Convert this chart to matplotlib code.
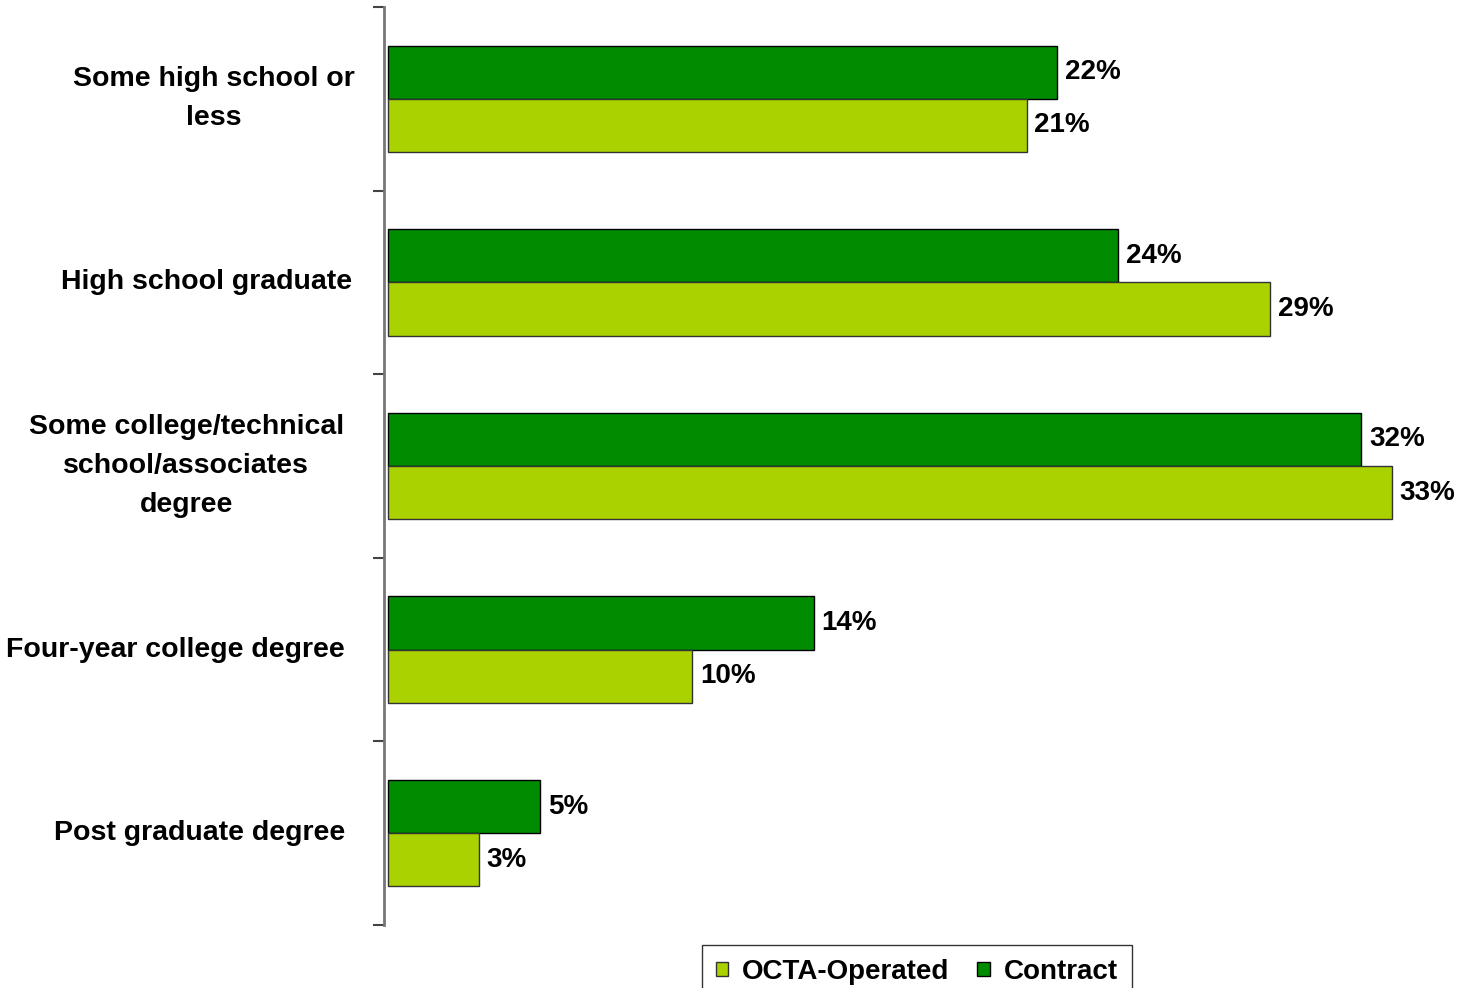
import matplotlib.pyplot as plt
import numpy as np

plt.rcParams['font.family'] = ['Liberation Sans', 'DejaVu Sans']

categories = ['Some high school or\nless', 'High school graduate',
              'Some college/technical\nschool/associates\ndegree',
              'Four-year college degree', 'Post graduate degree']
contract = [22, 24, 32, 14, 5]
octa = [21, 29, 33, 10, 3]

W, H = 1461, 988
fig = plt.figure(figsize=(W / 100, H / 100), dpi=100)
ax = fig.add_axes([384 / W, 1 - 925 / H, (1440 - 384) / W, (925 - 7) / H])

n = len(categories)
y = np.arange(n)
bh = 0.29
c_dark = '#008C00'
c_light = '#AAD200'

b2 = ax.barh(y - bh / 2, contract, height=bh, color=c_dark, edgecolor='black', linewidth=1, label='Contract')
b1 = ax.barh(y + bh / 2, octa, height=bh, color=c_light, edgecolor='#333333', linewidth=1, label='OCTA-Operated')

for bars, vals in [(b2, contract), (b1, octa)]:
    for b, v in zip(bars, vals):
        ax.text(v + 0.25, b.get_y() + b.get_height() / 2, f'{v}%', va='center', ha='left',
                fontsize=20, fontweight='bold')

ax.set_ylim(n - 0.5, -0.5)
ax.set_xlim(-0.13, (1440 - 388) / 30.42)

for s in ['top', 'right', 'bottom']:
    ax.spines[s].set_visible(False)
ax.spines['left'].set_color('#777777')
ax.spines['left'].set_linewidth(2)
ax.set_xticks([])
ax.set_yticks(np.arange(n + 1) - 0.5, minor=False)
ax.set_yticklabels([])
ax.tick_params(axis='y', length=8, width=1.5, color='#444444')

# right edges of the category labels (px), as in the original
xr = [355, 352, 344, 345, 345]
for i, lab in enumerate(categories):
    ax.text((xr[i] - 388) / 30.42, i, lab, ha='right', va='center', multialignment='center',
            fontsize=20.5, fontweight='bold', linespacing=1.65, transform=ax.transData)

leg = fig.legend(handles=[b1, b2], labels=['OCTA-Operated', 'Contract'], loc='upper left',
                 bbox_to_anchor=(702 / W, 1 - 945 / H), ncol=2, frameon=True, fancybox=False,
                 prop={'size': 20, 'weight': 'bold'}, handlelength=0.45, handleheight=0.45,
                 handletextpad=0.5, columnspacing=1.0, borderpad=0.5, borderaxespad=0)
leg.get_frame().set_edgecolor('black')
leg.get_frame().set_linewidth(1)

fig.savefig('out.png', dpi=100)
